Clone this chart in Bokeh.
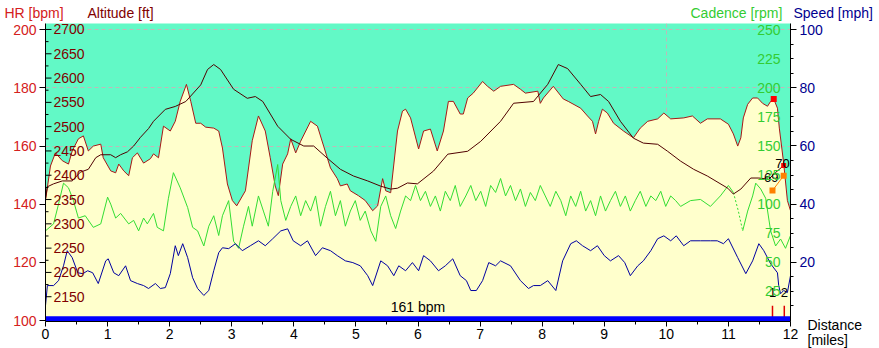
from bokeh.plotting import figure
from bokeh.models import Range1d, LinearAxis, FixedTicker
from bokeh.core.properties import value
from bokeh.embed import file_html
from bokeh.resources import INLINE

FONT = "Liberation Sans"

# ---------------- data ----------------
dist_alt = [0, 0.08, 0.16, 0.27, 0.37, 0.43, 0.53, 0.61, 0.69, 0.77, 0.89, 0.93, 1.05, 1.13, 1.18, 1.26,
            1.34, 1.40, 1.48, 1.58, 1.69, 1.74, 1.82, 1.90, 2.01, 2.09, 2.17, 2.27, 2.34, 2.42, 2.50, 2.58,
            2.71, 2.79, 2.85, 2.93, 3.01, 3.08, 3.22, 3.33, 3.43, 3.54, 3.62, 3.70, 3.75, 3.82, 3.90, 3.95,
            4.03, 4.11, 4.27, 4.38, 4.48, 4.59, 4.70, 4.75, 4.86, 4.91, 5.04, 5.15, 5.27, 5.35, 5.43, 5.48,
            5.56, 5.67, 5.75, 5.80, 5.88, 6.01, 6.09, 6.20, 6.31, 6.41, 6.49, 6.57, 6.68, 6.73, 6.80, 6.89,
            7.04, 7.12, 7.22, 7.33, 7.54, 7.65, 7.73, 7.93, 7.97, 8.02, 8.18, 8.34, 8.42, 8.62, 8.73, 8.81,
            8.86, 8.91, 8.97, 9.05, 9.15, 9.31, 9.47, 9.58, 9.70, 9.86, 9.96, 10.07, 10.28, 10.42, 10.55,
            10.66, 10.87, 11.00, 11.08, 11.15, 11.20, 11.24, 11.31, 11.39, 11.47, 11.55, 11.63, 11.68,
            11.73, 11.79, 11.82, 11.89, 11.95, 12.0]
altitude = [2348, 2419, 2446, 2430, 2423, 2450, 2475, 2481, 2450, 2460, 2464, 2436, 2409, 2405, 2423, 2409,
            2399, 2436, 2446, 2425, 2434, 2444, 2436, 2501, 2491, 2511, 2552, 2587, 2552, 2507, 2507, 2499,
            2497, 2491, 2456, 2382, 2348, 2337, 2368, 2471, 2522, 2491, 2436, 2378, 2358, 2423, 2444, 2475,
            2446, 2470, 2511, 2501, 2460, 2415, 2393, 2378, 2382, 2368, 2358, 2348, 2327, 2337, 2393, 2368,
            2364, 2491, 2532, 2536, 2518, 2454, 2491, 2495, 2450, 2491, 2552, 2552, 2526, 2526, 2559, 2569,
            2593, 2583, 2573, 2583, 2587, 2577, 2569, 2573, 2548, 2559, 2583, 2557, 2552, 2538, 2522, 2511,
            2485, 2511, 2536, 2528, 2507, 2491, 2477, 2497, 2511, 2516, 2528, 2516, 2518, 2522, 2507,
            2516, 2516, 2505, 2485, 2460, 2477, 2518, 2546, 2559, 2559, 2548, 2542, 2552,
            2557, 2538, 2497, 2425, 2348, 2327]

dist_hr = [0, 0.03, 0.13, 0.27, 0.43, 0.56, 0.69, 0.81, 0.89, 1.05, 1.13, 1.21, 1.32, 1.42, 1.53, 1.66,
           1.74, 1.93, 2.09, 2.26, 2.50, 2.61, 2.71, 2.82, 3.03, 3.25, 3.38, 3.50, 3.74, 3.95, 4.16, 4.32,
           4.54, 4.75, 4.96, 5.19, 5.40, 5.56, 5.67, 5.83, 5.99, 6.25, 6.48, 6.80, 7.01, 7.33, 7.54, 7.86,
           8.09, 8.26, 8.41, 8.62, 8.78, 8.94, 9.07, 9.26, 9.47, 9.63, 9.86, 10.02, 10.23, 10.44, 10.66,
           10.99, 11.08, 11.20, 11.36, 11.49, 11.65, 11.76, 11.89]
hr = [142, 146, 147, 148, 148, 151, 152, 156, 157, 157, 156, 157, 158, 160, 163, 166,
      168.5, 172.6, 173.6, 175.3, 181, 186.3, 188, 186.3, 179.5, 176.4, 177, 175.3, 166.8, 162.3, 160, 160,
      155.8, 152, 149.7, 148, 146.2, 145.2, 145.5, 147.3, 147, 151.4, 157.2, 158.2, 161.6, 168.5, 174.7, 175.3,
      181.2, 188, 186.6, 181.2, 177, 177.7, 175.3, 168.5, 162.7, 161, 160.6, 158.2, 154.8, 152, 149.7,
      145.5, 143.5, 145.2, 149, 149, 148.6, 150.9, 153.3]

dist_cad = [0, 0.13, 0.21, 0.29, 0.37, 0.45, 0.53, 0.64, 0.77, 0.89, 1.00, 1.05, 1.13, 1.21, 1.34, 1.42,
            1.50, 1.58, 1.64, 1.74, 1.80, 1.90, 1.98, 2.06, 2.17, 2.29, 2.37, 2.45, 2.55, 2.63, 2.71, 2.79,
            2.85, 2.95, 3.03, 3.11, 3.19, 3.27, 3.33, 3.43, 3.51, 3.59, 3.66, 3.74, 3.79, 3.87, 3.95, 4.03,
            4.11, 4.19, 4.27, 4.35, 4.43, 4.51, 4.59, 4.67, 4.75, 4.83, 4.91, 4.99, 5.07, 5.15, 5.24, 5.32,
            5.40, 5.48, 5.56, 5.64, 5.72, 5.80, 5.88, 5.96, 6.04, 6.12, 6.20, 6.28, 6.36, 6.44, 6.52, 6.60,
            6.68, 6.77, 6.85, 6.93, 7.01, 7.09, 7.17, 7.25, 7.33, 7.41, 7.49, 7.57, 7.65, 7.73, 7.81, 7.89,
            7.97, 8.05, 8.13, 8.22, 8.30, 8.38, 8.46, 8.54, 8.62, 8.70, 8.78, 8.86, 8.94, 9.02, 9.10, 9.18,
            9.26, 9.34, 9.42, 9.50, 9.58, 9.67, 9.75, 9.83, 9.91, 9.99, 10.07, 10.15, 10.23, 10.39, 10.55,
            10.71, 10.87, 11.00, 11.08, 11.16, 11.23, 11.31, 11.39, 11.44, 11.52, 11.60, 11.68, 11.76,
            11.84, 11.92, 12.0]
cadence = [77, 83, 100, 118, 114, 103, 88, 90, 80, 83, 106, 100, 88, 92, 83, 86,
           77, 88, 83, 92, 80, 77, 105, 127, 114, 97, 80, 77, 64, 81, 90, 73,
           90, 103, 68, 62, 81, 98, 81, 107, 94, 81, 111, 134, 103, 86, 98, 107,
           90, 103, 94, 107, 81, 98, 111, 90, 103, 81, 94, 103, 86, 94, 77, 68,
           98, 107, 90, 79, 94, 107, 103, 116, 103, 111, 98, 107, 94, 111, 103, 116,
           98, 107, 116, 103, 111, 98, 116, 110, 122, 107, 116, 103, 113, 98, 110, 103,
           116, 107, 98, 111, 103, 90, 107, 98, 111, 94, 103, 90, 107, 94, 103, 111,
           98, 107, 94, 103, 111, 98, 107, 103, 111, 98, 107, 103, 98, 103, 104,
           98, 107, 116, 110, 94, 77, 94, 107, 118, 113, 105, 77, 64,
           70, 62, 73]
cad_dashed = (11.08, 11.23)   # stretch drawn dashed

dist_spd = [0, 0.03, 0.13, 0.21, 0.29, 0.35, 0.43, 0.52, 0.60, 0.68, 0.76, 0.85, 0.97, 1.01, 1.10, 1.18,
            1.29, 1.37, 1.48, 1.58, 1.66, 1.77, 1.85, 1.93, 2.01, 2.09, 2.14, 2.21, 2.29, 2.37, 2.45, 2.55,
            2.63, 2.71, 2.79, 2.85, 2.95, 3.06, 3.17, 3.30, 3.43, 3.54, 3.66, 3.79, 3.90, 3.99, 4.11, 4.22,
            4.35, 4.46, 4.59, 4.70, 4.83, 4.95, 5.07, 5.19, 5.27, 5.40, 5.51, 5.61, 5.69, 5.80, 5.91, 6.01,
            6.09, 6.20, 6.33, 6.44, 6.56, 6.68, 6.78, 6.85, 6.94, 7.04, 7.14, 7.25, 7.33, 7.49, 7.65, 7.78,
            7.86, 7.97, 8.09, 8.22, 8.33, 8.46, 8.55, 8.65, 8.78, 8.89, 9.00, 9.10, 9.23, 9.33, 9.42, 9.54,
            9.63, 9.75, 9.86, 9.96, 10.07, 10.16, 10.28, 10.39, 10.55, 10.71, 10.82, 10.92, 11.00, 11.15,
            11.28, 11.39, 11.49, 11.57, 11.68, 11.79, 11.81, 11.84, 11.89, 11.95, 12.0]
speed = [5.1, 12, 12, 13.7, 18.8, 24, 21.6, 16.4, 16.1, 17.1, 16.4, 12.7, 20.5, 21.2, 16.4, 15.4,
         18.8, 13.7, 12.7, 12, 11, 12.7, 11, 11.3, 16.1, 25.7, 22.3, 26.4, 21.6, 14.7, 11, 8.6,
         10.3, 17.1, 23.3, 25, 24.7, 26.4, 24, 25.7, 27.4, 25.7, 28.1, 30.8, 31.5, 27.4, 25.7, 27.4,
         22.3, 25, 24, 22.3, 20.5, 19.9, 18.8, 15.4, 12, 20.5, 18.8, 15.4, 18.8, 17.1, 19.9, 17.1,
         22.3, 20.5, 17.1, 18.8, 21.2, 15.4, 13.7, 10.3, 10.3, 13.7, 19.9, 18.8, 20.5, 18.8, 13.7, 11,
         12, 12, 13.7, 10.3, 20.5, 26.4, 27.4, 25.7, 24, 25.7, 22.3, 20.5, 22.3, 19.9, 15.4, 18.8,
         20.5, 24, 28.1, 29.1, 27.4, 29.1, 25.7, 27.4, 27.4, 27.4, 27.4, 26.4, 28.1, 21.6,
         16.1, 20.5, 26.4, 24, 19.5, 16.4, 12, 9.2, 10.3, 9.6, 15.4]

lap_start = [0.0]
lap_end = [12.0]
lap_avg_hr = [161]
lap_marks = [11.71, 11.90]
lap_names = ["1", "2"]

alt_marker = ([11.73], [2557])
hr_marker = ([11.89], [153.3])
orange_pts = ([11.71, 11.89], [144.7, 149.8])
point_labels = ["69", "70"]
point_label_x = [11.69, 11.87]
point_label_hr = [149.1, 154.0]

x_ticks = list(range(0, 13))
x_minor = [i + 0.5 for i in range(12)]
hr_ticks = [100, 120, 140, 160, 180, 200]
alt_ticks = [2150, 2200, 2250, 2300, 2350, 2400, 2450, 2500, 2550, 2600, 2650, 2700]
alt_minor = [2175, 2225, 2275, 2325, 2375, 2425, 2475, 2525, 2575, 2625, 2675]
cad_ticks = [25, 50, 75, 100, 125, 150, 175, 200, 225, 250]
spd_ticks = [20, 40, 60, 80, 100]
spd_minor = [5, 10, 15, 25, 30, 35, 45, 50, 55, 65, 70, 75, 85, 90, 95]
xgrid_ticks = [10]

# ---------------- colours ----------------
C_BG = "#62F9C6"
C_FILL = "#FFFFCC"
C_ALT_LINE = "#A81818"
C_HR_LINE = "#500000"
C_CAD = "#33DD33"
C_SPD = "#0000A0"
C_HR_TXT = "#D42020"
C_ALT_TXT = "#800000"
C_CAD_TXT = "#33CC33"
C_SPD_TXT = "#000090"

p = figure(width=879, height=348, x_range=Range1d(0, 12), y_range=Range1d(99.7, 202.1),
           output_backend="svg", toolbar_location=None,
           min_border_left=45, min_border_right=89, min_border_top=23, min_border_bottom=27,
           background_fill_color=C_BG, border_fill_color="white", outline_line_color=None)
p.extra_y_ranges = {"alt": Range1d(2099, 2712.3), "cad": Range1d(-0.9, 255.2), "spd": Range1d(-0.35, 102.1)}

# axes
xa = p.xaxis[0]
xa.ticker = FixedTicker(ticks=x_ticks, minor_ticks=x_minor)
xa.major_tick_in = 0
xa.major_tick_out = 5
xa.minor_tick_in = 0
xa.minor_tick_out = 3
xa.major_label_standoff = 2
xa.major_label_text_font = FONT
xa.major_label_text_font_size = "14px"
xa.major_label_text_color = "black"
xa.axis_line_color = "black"

ya = p.yaxis[0]
ya.ticker = FixedTicker(ticks=hr_ticks)
ya.major_tick_in = 0
ya.major_tick_out = 6
ya.minor_tick_line_color = None
ya.major_label_standoff = 3
ya.major_label_text_font = FONT
ya.major_label_text_font_size = "14px"
ya.major_label_text_color = C_HR_TXT
ya.axis_line_color = "black"

ra = LinearAxis(y_range_name="spd", ticker=FixedTicker(ticks=spd_ticks, minor_ticks=spd_minor))
ra.major_tick_in = 0
ra.major_tick_out = 6
ra.minor_tick_in = 0
ra.minor_tick_out = 3
ra.major_label_standoff = 3
ra.major_label_text_font = FONT
ra.major_label_text_font_size = "14px"
ra.major_label_text_color = C_SPD_TXT
ra.axis_line_color = "black"
p.add_layout(ra, "right")

# grid
p.xgrid.ticker = FixedTicker(ticks=xgrid_ticks)
p.ygrid.ticker = FixedTicker(ticks=hr_ticks[1:])
for g in (p.xgrid, p.ygrid):
    g.grid_line_color = "#C0B8B8"
    g.grid_line_dash = "4 3"

# altitude area
p.varea(x=dist_alt, y1=[p.extra_y_ranges["alt"].start] * len(dist_alt), y2=altitude,
        fill_color=C_FILL, y_range_name="alt")
p.line(dist_alt, altitude, line_color=C_ALT_LINE, line_width=1, y_range_name="alt")

# cadence (with dashed stretch)
i0 = dist_cad.index(cad_dashed[0])
i1 = dist_cad.index(cad_dashed[1])
p.line(dist_cad[:i0 + 1], cadence[:i0 + 1], line_color=C_CAD, line_width=1, y_range_name="cad")
p.line(dist_cad[i0:i1 + 1], cadence[i0:i1 + 1], line_color=C_CAD, line_width=1, line_dash="2 2",
       y_range_name="cad")
p.line(dist_cad[i1:], cadence[i1:], line_color=C_CAD, line_width=1, y_range_name="cad")

# speed
p.line(dist_spd, speed, line_color=C_SPD, line_width=1, y_range_name="spd")

# heart rate
p.line(dist_hr, hr, line_color=C_HR_LINE, line_width=1)

# lap markers and lap bar
p.rect(x=lap_marks, y=[hr_ticks[0]] * len(lap_marks), width=1.5, height=30,
       width_units="screen", height_units="screen", fill_color="#E00000", line_color=None)
lap_mid = [(a + b) / 2 for a, b in zip(lap_start, lap_end)]
lap_w = [b - a for a, b in zip(lap_start, lap_end)]
p.rect(x=lap_mid, y=[hr_ticks[0]] * len(lap_mid), width=lap_w, height=9, height_units="screen",
       fill_color="#0000FF", line_color=None)
p.text(x=lap_mid, y=[hr_ticks[0]] * len(lap_mid), text=[f"{v} bpm" for v in lap_avg_hr],
       y_offset=-6, text_align="center", text_baseline="bottom",
       text_font=value(FONT), text_font_size="14px", text_color="black")
p.text(x=lap_marks, y=[hr_ticks[0]] * len(lap_marks), text=lap_names, y_offset=-28,
       text_align="center", text_baseline="middle",
       text_font=value(FONT), text_font_size="13px", text_color="black")

# special points
p.line(orange_pts[0], orange_pts[1], line_color="#FF8000", line_width=1)
p.scatter(orange_pts[0], orange_pts[1], marker="square", size=6, fill_color="#FF8000", line_color=None)
p.scatter(alt_marker[0], alt_marker[1], marker="square", size=6, fill_color="#FF0000", line_color=None,
          y_range_name="alt")
p.scatter(hr_marker[0], hr_marker[1], marker="square", size=5, fill_color="#FF0000", line_color=None)
p.text(x=point_label_x, y=point_label_hr, text=point_labels, text_align="center", text_baseline="middle",
       text_font=value(FONT), text_font_size="13px", text_color="black")

# inner altitude axis (left, inside)
p.ray(x=[0] * len(alt_ticks), y=alt_ticks, length=6, length_units="screen", angle=0,
      line_color="black", y_range_name="alt")
p.ray(x=[0] * len(alt_minor), y=alt_minor, length=3, length_units="screen", angle=0,
      line_color="black", y_range_name="alt")
p.text(x=[0] * len(alt_ticks), y=alt_ticks, text=[str(t) for t in alt_ticks], x_offset=8,
       text_align="left", text_baseline="middle", text_font=value(FONT), text_font_size="14px",
       text_color=C_ALT_TXT, y_range_name="alt")

# inner cadence axis (right, inside)
p.text(x=[12] * len(cad_ticks), y=cad_ticks, text=[str(t) for t in cad_ticks], x_offset=-10,
       text_align="right", text_baseline="middle", text_font=value(FONT), text_font_size="14px",
       text_color=C_CAD_TXT, y_range_name="cad")

# axis titles (drawn at overlay level so they can sit outside the plot area)
top = p.y_range.end
p.text(x=[0, 0, 12, 12], y=[top] * 4,
       text=["HR [bpm]", "Altitude [ft]", "Cadence [rpm]", "Speed [mph]"],
       x_offset=[-41, 42, -100, 3], y_offset=-11, text_align="left", text_baseline="middle",
       text_font=value(FONT), text_font_size="14px",
       text_color=[C_HR_TXT, C_ALT_TXT, C_CAD_TXT, C_SPD_TXT], level="overlay")

bottom = p.y_range.start
p.text(x=[12, 12], y=[bottom] * 2, text=["Distance", "[miles]"], x_offset=17, y_offset=[3, 18],
       text_align="left", text_baseline="middle", text_font=value(FONT), text_font_size="14px",
       text_color="black", level="overlay")

open("out.html", "w").write(file_html(p, INLINE))
